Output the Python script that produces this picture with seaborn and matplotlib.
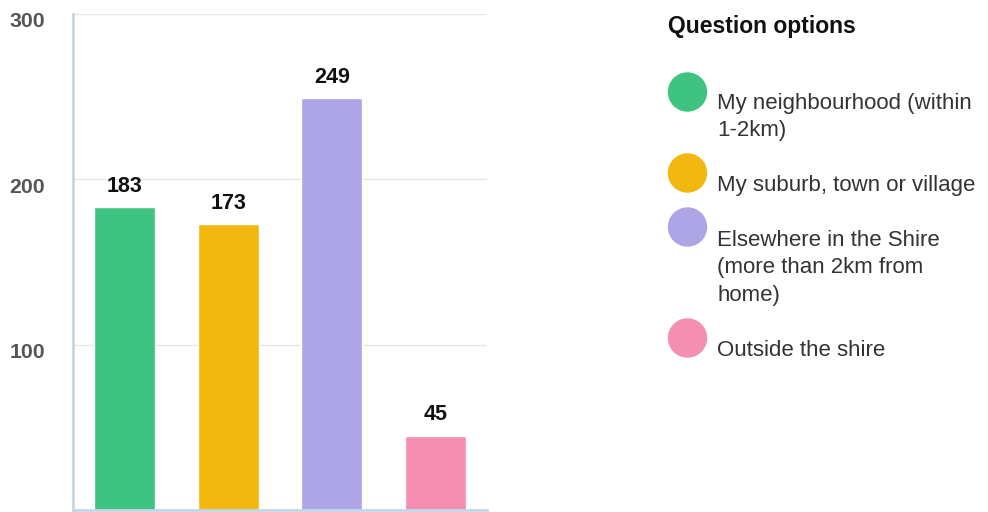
import matplotlib
matplotlib.use("Agg")
import matplotlib.pyplot as plt
import matplotlib.transforms as mtransforms
from matplotlib.patches import Ellipse
import seaborn as sns
import pandas as pd

categories = ["My neighbourhood (within 1-2km)", "My suburb, town or village",
              "Elsewhere in the Shire (more than 2km from home)", "Outside the shire"]
legend_labels = ["My neighbourhood (within\n1-2km)", "My suburb, town or village",
                 "Elsewhere in the Shire\n(more than 2km from\nhome)", "Outside the shire"]
values = [183, 173, 249, 45]
colors = ["#3fc380", "#f3b80f", "#ada5e6", "#f48fb1"]
yticks = [100, 200, 300]
legend_title = "Question options"

sns.set_theme(style="white")
plt.rcParams["font.family"] = ["Liberation Sans", "DejaVu Sans"]

W, H = 988, 512
fig = plt.figure(figsize=(W / 100, H / 100), dpi=100)
ax = fig.add_axes([73 / W, 2 / H, (487 - 73) / W, (510 - 14) / H])

df = pd.DataFrame({"cat": categories, "val": values})
sns.barplot(data=df, x="cat", y="val", hue="cat", palette=colors, order=categories,
            hue_order=categories, legend=False, width=0.59, saturation=1, ax=ax)

ax.set_ylim(0, 300)
ax.set_xlim(-0.5, 3.5)
ax.set_yticks(yticks)
ax.set_yticklabels([str(t) for t in yticks])
ax.set_xticks([])
ax.set_xlabel("")
ax.set_ylabel("")
for t in yticks:
    ax.axhline(t, color="#e6e6e6", lw=1, zorder=0)
ax.set_axisbelow(True)

for s in ["top", "right"]:
    ax.spines[s].set_visible(False)
for s in ["left", "bottom"]:
    ax.spines[s].set_color("#c5d5e6")
    ax.spines[s].set_linewidth(2)

ax.tick_params(axis="y", length=0, pad=20, labelsize=15.3, labelcolor="#555555")
off = mtransforms.ScaledTranslation(0, -6 / 100, fig.dpi_scale_trans)
for lab in ax.get_yticklabels():
    lab.set_fontweight("bold")
    lab.set_transform(lab.get_transform() + off)

for i, v in enumerate(values):
    ax.annotate(str(v), (i, v), xytext=(0, 15), textcoords="offset points",
                ha="center", va="center", fontsize=15.5, fontweight="bold", color="#111111")

# legend
fig.text(668 / W, 1 - 27 / H, legend_title, fontsize=16.5, fontweight="bold",
         color="#111111", ha="left", va="center")
circle_y = [92, 173, 227, 338]
text_top = [93, 175, 230, 340]
for c, lbl, cy, ty in zip(colors, legend_labels, circle_y, text_top):
    fig.add_artist(Ellipse((687.5 / W, 1 - cy / H), 38 / W, 38 / H,
                           transform=fig.transFigure, color=c))
    fig.text(717 / W, 1 - ty / H, lbl, fontsize=16, color="#333333",
             ha="left", va="top", linespacing=1.4)

fig.savefig("out.png", dpi=100)
